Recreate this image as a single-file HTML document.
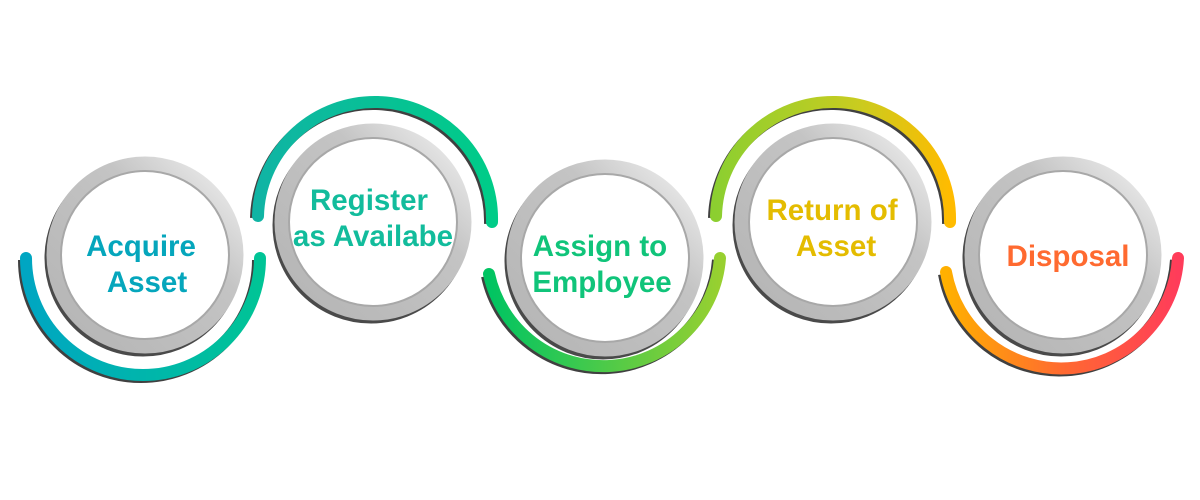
<!DOCTYPE html>
<html><head><meta charset="utf-8"><style>
html,body{margin:0;padding:0;background:#fff;}
svg{display:block;}
text{font-family:"Liberation Sans",sans-serif;font-weight:bold;font-size:29.5px;text-anchor:middle;}
</style></head><body>
<svg width="1200" height="500" viewBox="0 0 1200 500" xmlns="http://www.w3.org/2000/svg">
<defs>
<linearGradient id="g1" x1="0" y1="0" x2="1" y2="0"><stop offset="0" stop-color="#00a6c2"/><stop offset="1" stop-color="#00c496"/></linearGradient>
<linearGradient id="g2" x1="0" y1="0" x2="1" y2="0"><stop offset="0" stop-color="#10b4a4"/><stop offset="1" stop-color="#00cc88"/></linearGradient>
<linearGradient id="g3" x1="0" y1="0" x2="1" y2="0"><stop offset="0" stop-color="#00c462"/><stop offset="1" stop-color="#98d030"/></linearGradient>
<linearGradient id="g4" x1="0" y1="0" x2="1" y2="0"><stop offset="0" stop-color="#8ccf30"/><stop offset="0.6" stop-color="#c8cc20"/><stop offset="1" stop-color="#ffbb00"/></linearGradient>
<linearGradient id="g5" x1="0" y1="0" x2="1" y2="0"><stop offset="0" stop-color="#ffb000"/><stop offset="0.5" stop-color="#ff6a30"/><stop offset="1" stop-color="#ff3c5a"/></linearGradient>
<linearGradient id="ring" x1="1" y1="0" x2="0" y2="1"><stop offset="0" stop-color="#f2f2f2"/><stop offset="0.35" stop-color="#c4c4c4"/><stop offset="1" stop-color="#b4b4b4"/></linearGradient>
<g id="circ">
<circle cx="-2" cy="3" r="91" fill="none" stroke="#4a4a4a" stroke-width="15"/>
<circle cx="0" cy="0" r="91" fill="#fff" stroke="url(#ring)" stroke-width="15"/>
<circle cx="0" cy="0" r="84" fill="none" stroke="#a8a8a8" stroke-width="2"/>
</g>
</defs>

<path d="M 26 258 A 117 117 0 0 0 260 258" fill="none" stroke="#404040" stroke-width="12" transform="translate(-2,2)"/>
<path d="M 26 258 A 117 117 0 0 0 260 258" fill="none" stroke="url(#g1)" stroke-width="12" stroke-linecap="round"/>

<path d="M 258 216 A 117 117 0 0 1 492 222" fill="none" stroke="#404040" stroke-width="12" transform="translate(-2,2)"/>
<path d="M 258 216 A 117 117 0 0 1 492 222" fill="none" stroke="url(#g2)" stroke-width="12" stroke-linecap="round"/>

<path d="M 489 274 A 117 117 0 0 0 720 258" fill="none" stroke="#404040" stroke-width="12" transform="translate(-2,2)"/>
<path d="M 489 274 A 117 117 0 0 0 720 258" fill="none" stroke="url(#g3)" stroke-width="12" stroke-linecap="round"/>

<path d="M 716 216 A 117 117 0 0 1 950 222" fill="none" stroke="#404040" stroke-width="12" transform="translate(-2,2)"/>
<path d="M 716 216 A 117 117 0 0 1 950 222" fill="none" stroke="url(#g4)" stroke-width="12" stroke-linecap="round"/>

<path d="M 946 272 A 117 117 0 0 0 1178 258" fill="none" stroke="#404040" stroke-width="12" transform="translate(-2,2)"/>
<path d="M 946 272 A 117 117 0 0 0 1178 258" fill="none" stroke="url(#g5)" stroke-width="12" stroke-linecap="round"/>

<use href="#circ" x="145" y="255"/>
<use href="#circ" x="373" y="222"/>
<use href="#circ" x="605" y="258"/>
<use href="#circ" x="833" y="222"/>
<use href="#circ" x="1063" y="255"/>

<text x="141" y="256" fill="#05a6bc">Acquire</text>
<text x="147" y="292" fill="#05a6bc">Asset</text>
<text x="369" y="210" fill="#12bc9c">Register</text>
<text x="373" y="246" fill="#12bc9c">as Availabe</text>
<text x="600" y="256" fill="#10c47a">Assign to</text>
<text x="602" y="292" fill="#10c47a">Employee</text>
<text x="832" y="220" fill="#e4bc00">Return of</text>
<text x="836" y="256" fill="#e4bc00">Asset</text>
<text x="1068" y="266" fill="#ff6a30">Disposal</text>
</svg>
</body></html>
